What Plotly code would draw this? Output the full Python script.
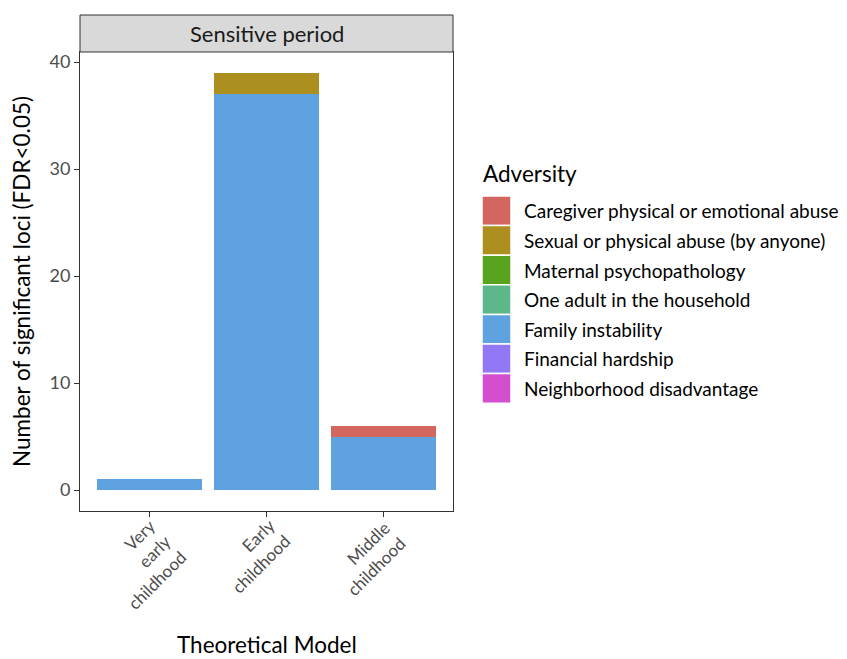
import plotly.graph_objects as go

categories = ["Very early childhood", "Early childhood", "Middle childhood"]
tick_labels = ["Very<br>early<br>childhood", "Early<br>childhood", "Middle<br>childhood"]
adversities = [
    "Caregiver physical or emotional abuse",
    "Sexual or physical abuse (by anyone)",
    "Maternal psychopathology",
    "One adult in the household",
    "Family instability",
    "Financial hardship",
    "Neighborhood disadvantage",
]
colors = ["#D3665E", "#AD8F1F", "#5AA31E", "#5DB78B", "#5FA2E0", "#9378F6", "#D34FD0"]

caregiver = [0, 0, 1]
sexual = [0, 2, 0]
maternal = [0, 0, 0]
one_adult = [0, 0, 0]
family = [1, 37, 5]
financial = [0, 0, 0]
neighborhood = [0, 0, 0]
values = [caregiver, sexual, maternal, one_adult, family, financial, neighborhood]

yticks = [0, 10, 20, 30, 40]
FONT = "Lato"

fig = go.Figure()
# ggplot stacks first level on top -> add in reverse order
for name, col, vals in reversed(list(zip(adversities, colors, values))):
    fig.add_trace(go.Bar(
        x=categories, y=vals, name=name, marker=dict(color=col, line=dict(width=0)),
        width=0.9, showlegend=False,
    ))

fig.update_layout(
    width=847, height=659,
    margin=dict(l=80, r=394, t=52, b=148),
    barmode="stack",
    plot_bgcolor="white", paper_bgcolor="white",
    font=dict(family=FONT, color="#4D4D4D", size=18),
    xaxis=dict(
        range=[-0.6, 2.6], showline=True, mirror=True, linecolor="#333333", linewidth=1,
        ticks="outside", ticklen=5, tickcolor="#333333", automargin=False,
        showticklabels=False, showgrid=False, zeroline=False,
    ),
    yaxis=dict(
        range=[-1.95, 40.95], tickvals=yticks, showline=True, mirror=True, automargin=False,
        linecolor="#333333", linewidth=1, ticks="outside", ticklen=5, tickcolor="#333333",
        tickfont=dict(size=18, color="#4D4D4D"), showgrid=False, zeroline=False,
        title=dict(text="Number of significant loci (FDR<0.05)", font=dict(size=22.5, color="black"), standoff=12),
    ),
)

pw, ph = 847 - 80 - 394, 659 - 52 - 148
def px_to_paper(xp, yp):
    return (xp - 80) / pw, (659 - 148 - yp) / ph

# x axis title
fig.add_annotation(text="Theoretical Model", xref="paper", yref="paper", x=0.5,
                   y=px_to_paper(0, 644)[1], showarrow=False, xanchor="center", yanchor="middle",
                   font=dict(size=22.5, color="black", family=FONT))

# rotated x tick labels (ggplot angle=45, hjust=1)
label_shift = [-9, -14, -15]
label_cy = [564, 556, 558]
for cat, lab, dx, cy in zip(categories, tick_labels, label_shift, label_cy):
    fig.add_annotation(text=lab, x=cat, xref="x", y=px_to_paper(0, cy)[1], yref="paper",
                       xshift=dx, textangle=-45, align="right", showarrow=False,
                       xanchor="center", yanchor="middle",
                       font=dict(size=17, color="#4D4D4D", family=FONT))

# facet strip
fig.add_shape(type="rect", xref="paper", yref="paper", x0=0, x1=1, y0=1, y1=1 + 37 / 459,
              fillcolor="#D9D9D9", line=dict(color="#333333", width=1), layer="above")
fig.add_annotation(text="Sensitive period", xref="paper", yref="paper", x=0.5, y=1 + 18.5 / 459,
                   showarrow=False, font=dict(size=22, color="#1A1A1A", family=FONT),
                   xanchor="center", yanchor="middle")

# custom legend (ggplot style)
lx, ly = px_to_paper(481, 173)
fig.add_annotation(text="Adversity", xref="paper", yref="paper", x=lx, y=ly, showarrow=False,
                   xanchor="left", yanchor="middle", font=dict(size=22.5, color="black", family=FONT))
for i, (name, col) in enumerate(zip(adversities, colors)):
    top = 196 + i * 29.6
    x0, y0 = px_to_paper(482, top)
    x1, y1 = px_to_paper(511, top + 29.6)
    fig.add_shape(type="rect", xref="paper", yref="paper", x0=x0, x1=x1, y0=y1, y1=y0,
                  fillcolor=col, line=dict(color="white", width=1.5))
    tx, ty = px_to_paper(522, top + 14.8)
    fig.add_annotation(text=name, xref="paper", yref="paper", x=tx, y=ty, showarrow=False,
                       xanchor="left", yanchor="middle", font=dict(size=19, color="black", family=FONT))

fig.write_html("out.html", config={"displayModeBar": False},
               post_script="document.body.style.margin='0';document.body.style.padding='0';")
